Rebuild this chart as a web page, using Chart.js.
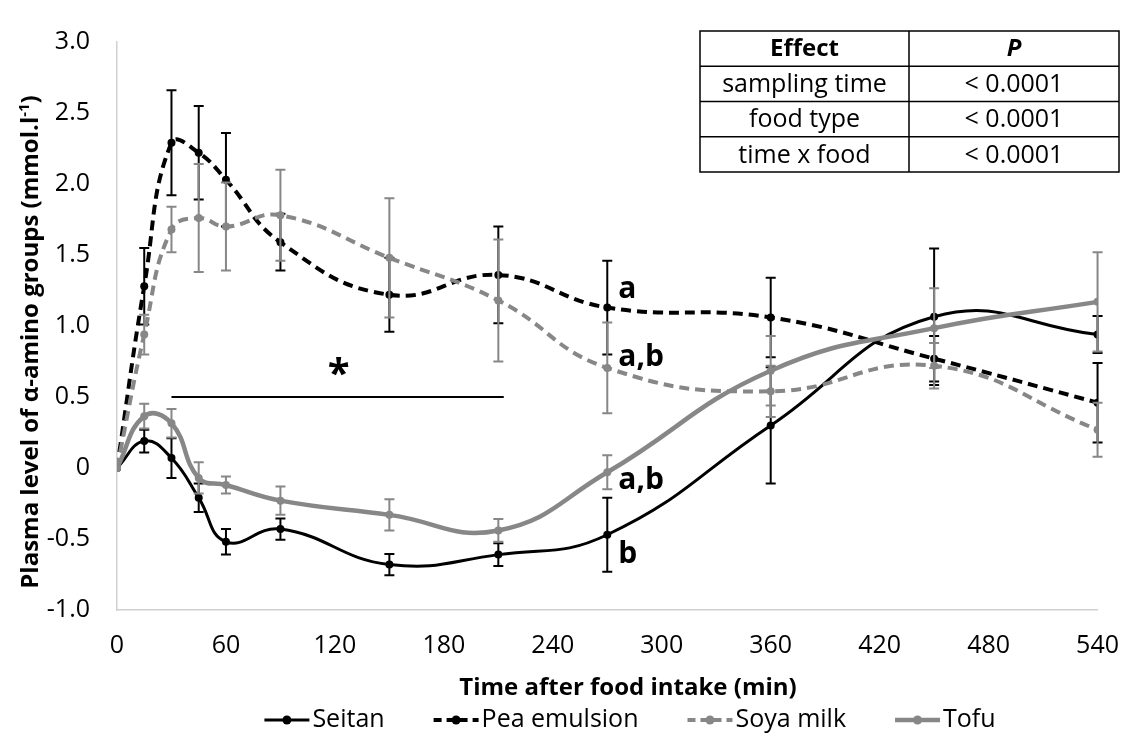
<!DOCTYPE html>
<html>
<head>
<meta charset="utf-8">
<script src="https://cdn.jsdelivr.net/npm/chart.js@4.4.1/dist/chart.umd.min.js"></script>
<style>
  html, body { margin: 0; padding: 0; background: #fff; }
</style>
</head>
<body>
<canvas id="chart" width="1140" height="735"></canvas>
<script>
// sampling times (min)
const times = [0, 15, 30, 45, 60, 90, 150, 210, 270, 360, 450, 540];

// plasma alpha-amino groups (mmol/l), mean and error per food
const seitan    = [0, 0.19, 0.07, -0.21, -0.52, -0.43, -0.68, -0.61, -0.47, 0.30, 1.065, 0.94];
const seitanErr = [0, 0.08, 0.14, 0.10, 0.09, 0.075, 0.075, 0.08, 0.26, 0.41, 0.48, 0.13];
const pea       = [0, 1.28, 2.29, 2.22, 2.03, 1.59, 1.22, 1.36, 1.13, 1.06, 0.77, 0.46];
const peaErr    = [0, 0.27, 0.37, 0.33, 0.33, 0.20, 0.26, 0.34, 0.33, 0.28, 0.16, 0.28];
const soya      = [0, 0.94, 1.68, 1.76, 1.70, 1.78, 1.48, 1.18, 0.705, 0.54, 0.72, 0.27];
const soyaErr   = [0, 0.14, 0.16, 0.38, 0.31, 0.32, 0.42, 0.43, 0.32, 0.18, 0.16, 0.19];
const tofu      = [0, 0.365, 0.315, -0.07, -0.12, -0.23, -0.33, -0.44, -0.03, 0.685, 0.985, 1.17];
const tofuErr   = [0, 0.087, 0.10, 0.11, 0.06, 0.10, 0.11, 0.08, 0.12, 0.245, 0.28, 0.35];

// statistics table
const effects = ["sampling time", "food type", "time x food"];
const pValues = ["< 0.0001", "< 0.0001", "< 0.0001"];

// significance letters at 270 min, and the * bar
const letters = [
  { text: "a",   x: 270, y: 1.20 },
  { text: "a,b", x: 270, y: 0.72 },
  { text: "a,b", x: 270, y: -0.15 },
  { text: "b",   x: 270, y: -0.67 }
];
const starBar = { from: 30, to: 213, y: 0.5, starX: 122 };

const xTitle = "Time after food intake (min)";
const yTitle = "Plasma level of α-amino groups (mmol.l";
const yTitleSup = "-1";

const GRAY = "#878787";
const FONT = "'Open Sans', Lato, sans-serif";

const toPoints = (vals) => vals.map((v, i) => ({ x: times[i], y: v }));

const makeSet = (label, vals, errs, color, dash, width, order) => ({
  label: label,
  data: toPoints(vals),
  errors: errs,
  borderColor: color,
  backgroundColor: color,
  borderWidth: width,
  borderDash: dash,
  pointRadius: 4,
  pointBorderWidth: 0,
  pointBackgroundColor: color,
  tension: 0.45,
  order: order
});

// error bars, drawn under each series line
const errorBars = {
  id: "errorBars",
  beforeDatasetDraw(chart, args) {
    const ds = chart.data.datasets[args.index];
    if (!ds.errors) return;
    const xs = chart.scales.x, ys = chart.scales.y, ctx = chart.ctx;
    ctx.save();
    ctx.setLineDash([]);
    ctx.strokeStyle = ds.borderColor;
    ctx.lineWidth = 2;
    ds.data.forEach((p, i) => {
      const e = ds.errors[i];
      if (!e) return;
      const px = xs.getPixelForValue(p.x);
      const top = ys.getPixelForValue(p.y + e);
      const bot = ys.getPixelForValue(p.y - e);
      ctx.beginPath();
      ctx.moveTo(px, top); ctx.lineTo(px, bot);
      ctx.moveTo(px - 5, top); ctx.lineTo(px + 5, top);
      ctx.moveTo(px - 5, bot); ctx.lineTo(px + 5, bot);
      ctx.stroke();
    });
    ctx.restore();
  }
};

// axis titles, letters, star, table and legend
const extras = {
  id: "extras",
  afterDraw(chart) {
    const ctx = chart.ctx, xs = chart.scales.x, ys = chart.scales.y;
    ctx.save();
    ctx.fillStyle = "#000";

    // x axis title
    ctx.font = "bold 24px " + FONT;
    ctx.textAlign = "center";
    ctx.textBaseline = "middle";
    ctx.fillText(xTitle, 628, 688);

    // y axis title with superscript
    ctx.save();
    ctx.translate(38, 342);
    ctx.rotate(-Math.PI / 2);
    ctx.font = "bold 24px " + FONT;
    const w1 = ctx.measureText(yTitle).width;
    ctx.font = "bold 15px " + FONT;
    const w2 = ctx.measureText(yTitleSup).width;
    ctx.font = "bold 24px " + FONT;
    const w3 = ctx.measureText(")").width;
    let tx = -(w1 + w2 + w3) / 2;
    ctx.textAlign = "left";
    ctx.textBaseline = "alphabetic";
    ctx.fillText(yTitle, tx, 0);
    ctx.font = "bold 15px " + FONT;
    ctx.fillText(yTitleSup, tx + w1, -9);
    ctx.font = "bold 24px " + FONT;
    ctx.fillText(")", tx + w1 + w2, 0);
    ctx.restore();

    // * bar
    ctx.strokeStyle = "#000";
    ctx.lineWidth = 2;
    ctx.beginPath();
    ctx.moveTo(xs.getPixelForValue(starBar.from), ys.getPixelForValue(starBar.y));
    ctx.lineTo(xs.getPixelForValue(starBar.to), ys.getPixelForValue(starBar.y));
    ctx.stroke();
    ctx.font = "bold 40px " + FONT;
    ctx.textAlign = "center";
    ctx.textBaseline = "alphabetic";
    ctx.fillText("*", xs.getPixelForValue(starBar.starX), ys.getPixelForValue(starBar.y) - 10);

    // letters
    ctx.font = "bold 30px " + FONT;
    ctx.textAlign = "left";
    letters.forEach((l) => {
      ctx.fillText(l.text, xs.getPixelForValue(l.x) + 11, ys.getPixelForValue(l.y));
    });

    // table
    const tL = 700, tR = 1119, tMid = 909, tTop = 31, rowH = 35.25;
    const nRows = effects.length + 1;
    ctx.fillStyle = "#fff";
    ctx.fillRect(tL, tTop, tR - tL, rowH * nRows);
    ctx.strokeStyle = "#000";
    ctx.lineWidth = 1.5;
    ctx.strokeRect(tL, tTop, tR - tL, rowH * nRows);
    ctx.beginPath();
    for (let r = 1; r < nRows; r++) {
      ctx.moveTo(tL, tTop + rowH * r);
      ctx.lineTo(tR, tTop + rowH * r);
    }
    ctx.moveTo(tMid, tTop);
    ctx.lineTo(tMid, tTop + rowH * nRows);
    ctx.stroke();
    ctx.fillStyle = "#000";
    ctx.textAlign = "center";
    ctx.textBaseline = "middle";
    const c1 = (tL + tMid) / 2, c2 = (tMid + tR) / 2;
    ctx.font = "bold 24px " + FONT;
    ctx.fillText("Effect", c1, tTop + rowH / 2 + 1);
    ctx.font = "italic bold 24px " + FONT;
    ctx.fillText("P", c2, tTop + rowH / 2 + 1);
    ctx.font = "25px " + FONT;
    effects.forEach((e, i) => {
      const cy = tTop + rowH * (i + 1.5) + 1;
      ctx.fillText(e, c1, cy);
      ctx.fillText(pValues[i], c2, cy);
    });

    // legend
    const legY = 720, sampleW = 45, gapText = 3, gapItem = 49;
    ctx.font = "25px " + FONT;
    const sets = chart.data.datasets;
    const widths = sets.map((d) => sampleW + gapText + ctx.measureText(d.label).width);
    const total = widths.reduce((a, b) => a + b, 0) + gapItem * (sets.length - 1);
    let lx = 630 - total / 2;
    ctx.textAlign = "left";
    ctx.textBaseline = "middle";
    sets.forEach((d, i) => {
      ctx.strokeStyle = d.borderColor;
      ctx.lineWidth = d.borderWidth;
      ctx.setLineDash(d.borderDash.length ? [8, 5] : []);
      ctx.beginPath();
      ctx.moveTo(lx, legY);
      ctx.lineTo(lx + sampleW, legY);
      ctx.stroke();
      ctx.setLineDash([]);
      ctx.fillStyle = d.borderColor;
      ctx.beginPath();
      ctx.arc(lx + sampleW / 2, legY, 4.5, 0, Math.PI * 2);
      ctx.fill();
      ctx.fillStyle = "#000";
      ctx.fillText(d.label, lx + sampleW + gapText, legY);
      lx += widths[i] + gapItem;
    });

    ctx.restore();
  }
};

new Chart(document.getElementById("chart"), {
  type: "line",
  data: {
    datasets: [
      makeSet("Seitan", seitan, seitanErr, "#000", [], 3, 4),
      makeSet("Pea emulsion", pea, peaErr, "#000", [10, 6], 4, 3),
      makeSet("Soya milk", soya, soyaErr, GRAY, [10, 6], 4, 2),
      makeSet("Tofu", tofu, tofuErr, GRAY, [], 4.5, 1)
    ]
  },
  options: {
    responsive: false,
    animation: false,
    layout: { padding: { top: 22, right: 25, bottom: 35, left: 0 } },
    plugins: {
      legend: { display: false },
      tooltip: { enabled: false }
    },
    scales: {
      x: {
        type: "linear",
        min: 0,
        max: 540,
        grid: { display: false, drawTicks: false },
        border: { display: true, color: "#d0d0d0", width: 1.5 },
        ticks: { stepSize: 60, padding: 21, color: "#000", font: { family: FONT, size: 25 } },
        afterFit: (s) => { s.height = 90; }
      },
      y: {
        min: -1,
        max: 3,
        grid: { display: false, drawTicks: false },
        border: { display: true, color: "#d0d0d0", width: 1.5 },
        ticks: {
          stepSize: 0.5,
          padding: 27,
          color: "#000",
          font: { family: FONT, size: 25 },
          callback: (v) => (v === 0 ? "0" : v.toFixed(1))
        },
        afterFit: (s) => { s.width = 117; }
      }
    }
  },
  plugins: [errorBars, extras]
});
</script>
</body>
</html>
